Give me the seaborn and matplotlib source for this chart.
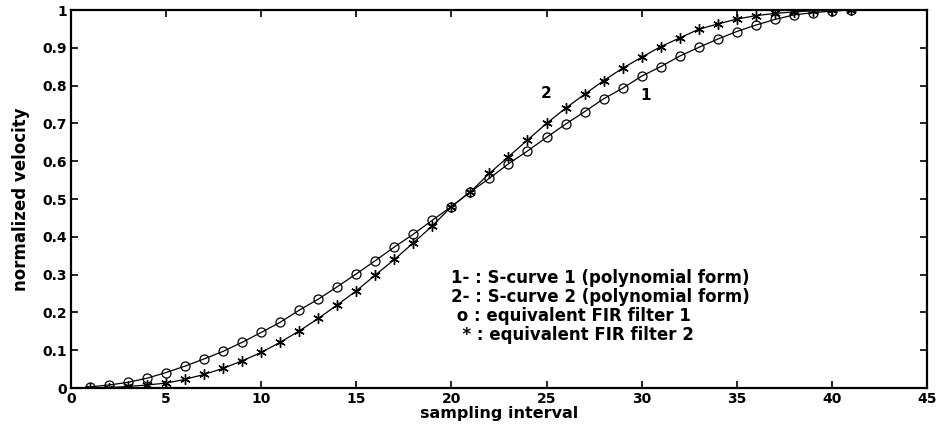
import numpy as np
import pandas as pd
import seaborn as sns
import matplotlib.pyplot as plt
from matplotlib.ticker import FormatStrFormatter

# sampling intervals 1..41 and the two normalized velocity profiles
samples = list(range(1, 42))
curve1 = [0.003, 0.008, 0.015, 0.026, 0.041, 0.058, 0.077, 0.097, 0.121, 0.147,
          0.174, 0.206, 0.235, 0.268, 0.302, 0.337, 0.373, 0.407, 0.444, 0.480,
          0.519, 0.555, 0.593, 0.627, 0.663, 0.698, 0.731, 0.765, 0.793, 0.825,
          0.850, 0.878, 0.901, 0.923, 0.943, 0.960, 0.975, 0.987, 0.993, 0.997,
          1.000]
curve2 = [0.000, 0.001, 0.004, 0.008, 0.013, 0.023, 0.036, 0.052, 0.072, 0.094,
          0.121, 0.151, 0.184, 0.220, 0.257, 0.299, 0.340, 0.384, 0.429, 0.480,
          0.519, 0.568, 0.612, 0.656, 0.700, 0.740, 0.777, 0.813, 0.846, 0.875,
          0.903, 0.926, 0.949, 0.963, 0.976, 0.985, 0.991, 0.995, 0.998, 0.999,
          1.000]

legend_lines = ["1- : S-curve 1 (polynomial form)",
                "2- : S-curve 2 (polynomial form)",
                " o : equivalent FIR filter 1",
                "  * : equivalent FIR filter 2"]

sns.set_style("ticks", {'axes.edgecolor': 'black', 'text.color': 'black',
                        'axes.labelcolor': 'black', 'xtick.color': 'black',
                        'ytick.color': 'black'})
plt.rcParams['font.family'] = ['DejaVu Sans']
plt.rcParams['font.weight'] = 'bold'

df = pd.DataFrame({'sample': samples, 'c1': curve1, 'c2': curve2})

fig = plt.figure(figsize=(9.41, 4.26), dpi=100)
ax = fig.add_axes([0.0755, 0.0892, 0.9095, 0.8873])

sns.lineplot(data=df, x='sample', y='c1', ax=ax, color='black', linewidth=0.9,
             marker='o', markersize=6.5, markerfacecolor='none',
             markeredgecolor='black', markeredgewidth=0.9)
sns.lineplot(data=df, x='sample', y='c2', ax=ax, color='black', linewidth=0.9,
             marker=(6, 2, 0), markersize=7.5, markeredgecolor='black',
             markeredgewidth=1.0)

ax.set_xlim(0, 45)
ax.set_ylim(0, 1)
ax.set_xticks(np.arange(0, 46, 5))
ax.set_yticks(np.arange(0, 1.01, 0.1))
ax.yaxis.set_major_formatter(FormatStrFormatter('%g'))
ax.tick_params(direction='in', top=True, right=True, length=5, width=1.2,
               labelsize=10, pad=3, colors='black')
for lab in ax.get_xticklabels() + ax.get_yticklabels():
    lab.set_fontweight('bold')
for sp in ax.spines.values():
    sp.set_linewidth(1.6)
    sp.set_color('black')
    sp.set_visible(True)

ax.set_xlabel('sampling interval', fontsize=11.5, fontweight='bold', labelpad=0,
              color='black')
ax.set_ylabel('normalized velocity', fontsize=12, fontweight='bold', labelpad=9,
              color='black')

ax.text(25.0, 0.778, '2', fontsize=11, fontweight='bold', ha='center',
        va='center', color='black')
ax.text(30.2, 0.775, '1', fontsize=11, fontweight='bold', ha='center',
        va='center', color='black')

for i, line in enumerate(legend_lines):
    ax.text(20.0, 0.291 - i * 0.05, line, fontsize=12, fontweight='bold',
            ha='left', va='center', color='black')

plt.savefig('out.png', dpi=100)
